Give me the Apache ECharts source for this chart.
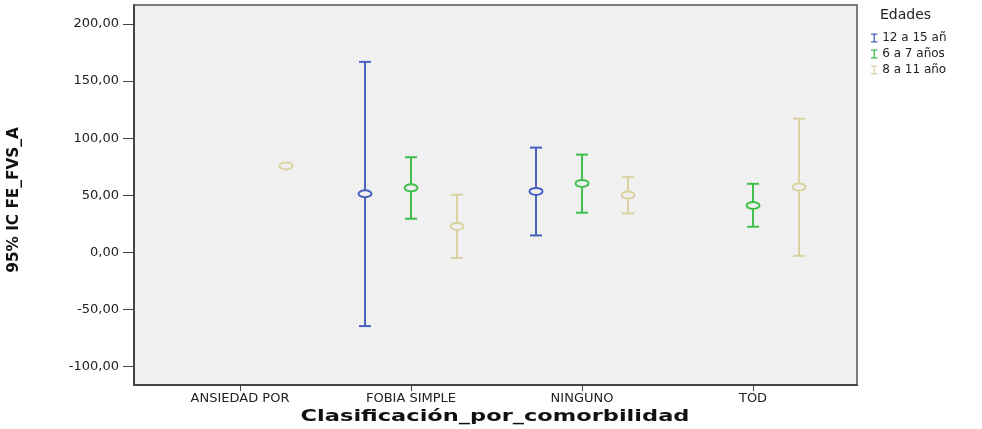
<!DOCTYPE html>
<html>
<head>
<meta charset="utf-8">
<script src="https://cdn.jsdelivr.net/npm/echarts@6/dist/echarts.min.js"></script>
<style>
  html, body { margin: 0; padding: 0; background: #fff; }
  #chart { width: 982px; height: 429px; }
</style>
</head>
<body>
<div id="chart"></div>
<script>
// categories on the x axis
const categories = ['ANSIEDAD POR', 'FOBIA SIMPLE', 'NINGUNO', 'TOD'];
const groupNames = ['12 a 15 añ', '6 a 7 años', '8 a 11 año'];
const yTicks = [-100, -50, 0, 50, 100, 150, 200];

// [categoryIndex, lower, mean, upper]  (null = no interval)
const group12a15 = [
  [1, -64.6, 51.3, 166.8],
  [2, 14.8, 53.3, 91.7]
];
const group6a7 = [
  [1, 29.4, 56.5, 83.3],
  [2, 34.7, 60.3, 85.6],
  [3, 22.4, 41.0, 60.0]
];
const group8a11 = [
  [0, null, 75.7, null],
  [1, -4.9, 22.7, 50.4],
  [2, 34.1, 50.1, 66.1],
  [3, -3.1, 57.1, 117.0]
];

const colors = ['#4861bf', '#3fbf4a', '#d8d3a0'];
const offsets = [-46, 0, 46]; // px shift of each group inside a category

const fmt = v => v.toFixed(2).replace('.', ',');

function makeSeries(name, data, idx) {
  return {
    name: name,
    type: 'custom',
    itemStyle: { color: colors[idx] },
    data: data,
    renderItem: function (params, api) {
      const dx = offsets[idx];
      const c = colors[idx];
      const mid = api.coord([api.value(0), api.value(2)]);
      const x = mid[0] + dx;
      const children = [];
      const lo = api.value(1), hi = api.value(3);
      if (lo != null && !isNaN(lo) && hi != null && !isNaN(hi)) {
        const pLo = api.coord([api.value(0), lo]);
        const pHi = api.coord([api.value(0), hi]);
        const ls = { stroke: c, lineWidth: 2 };
        children.push({ type: 'line', shape: { x1: x, y1: pLo[1], x2: x, y2: pHi[1] }, style: ls });
        children.push({ type: 'line', shape: { x1: x - 6, y1: pLo[1], x2: x + 6, y2: pLo[1] }, style: ls });
        children.push({ type: 'line', shape: { x1: x - 6, y1: pHi[1], x2: x + 6, y2: pHi[1] }, style: ls });
      }
      children.push({
        type: 'ellipse',
        shape: { cx: x, cy: mid[1], rx: 6.5, ry: 3.5 },
        style: { stroke: c, lineWidth: 2, fill: '#f0f0f0' }
      });
      return { type: 'group', children: children };
    }
  };
}

const chart = echarts.init(document.getElementById('chart'));
chart.setOption({
  animation: false,
  textStyle: { fontFamily: '"DejaVu Sans", "Liberation Sans", sans-serif' },
  grid: {
    left: 134, top: 5, right: 125, bottom: 44,
    show: true,
    backgroundColor: '#f0f0f0',
    borderColor: '#555',
    borderWidth: 1.5
  },
  legend: {
    orient: 'vertical',
    left: 866,
    top: 27,
    itemWidth: 8,
    itemHeight: 9,
    itemGap: 4,
    icon: 'path://M0,0H10V2H6V12H10V14H0V12H4V2H0Z',
    data: groupNames,
    textStyle: { fontSize: 12, color: '#222', padding: [0, 0, 0, -1] }
  },
  xAxis: {
    type: 'value',
    min: -0.62,
    max: 3.608,
    axisLine: { show: true, onZero: false, lineStyle: { color: '#444', width: 2 } },
    axisTick: { show: true, customValues: [0, 1, 2, 3], length: 6, lineStyle: { color: '#444' } },
    axisLabel: {
      customValues: [0, 1, 2, 3],
      formatter: v => categories[Math.round(v)],
      color: '#222',
      fontSize: 13,
      margin: 7
    },
    splitLine: { show: false }
  },
  yAxis: {
    type: 'value',
    min: -116.2,
    max: 216.6,
    axisLine: { show: true, onZero: false, lineStyle: { color: '#444', width: 2 } },
    axisTick: { show: true, customValues: yTicks, length: 11, lineStyle: { color: '#444' } },
    axisLabel: {
      customValues: yTicks,
      formatter: fmt,
      color: '#222',
      fontSize: 13,
      margin: 15
    },
    splitLine: { show: false }
  },
  graphic: [
    {
      type: 'text',
      left: 880,
      top: 8,
      style: { text: 'Edades', fill: '#222', font: '14px "DejaVu Sans"' }
    },
    {
      type: 'text',
      x: 14,
      y: 200,
      rotation: Math.PI / 2,
      scaleY: 0.9,
      style: {
        text: '95% IC FE_FVS_A',
        font: 'bold 17px "Liberation Sans Narrow", "DejaVu Sans Condensed", "Liberation Sans"',
        fill: '#111',
        align: 'center',
        verticalAlign: 'middle'
      }
    },
    {
      type: 'text',
      x: 495,
      y: 417,
      scaleX: 1.5,
      style: {
        text: 'Clasificación_por_comorbilidad',
        font: 'bold 15px "DejaVu Sans", "Liberation Sans"',
        fill: '#111',
        align: 'center',
        verticalAlign: 'middle'
      }
    }
  ],
  series: [
    makeSeries(groupNames[0], group12a15, 0),
    makeSeries(groupNames[1], group6a7, 1),
    makeSeries(groupNames[2], group8a11, 2)
  ]
});
</script>
</body>
</html>
